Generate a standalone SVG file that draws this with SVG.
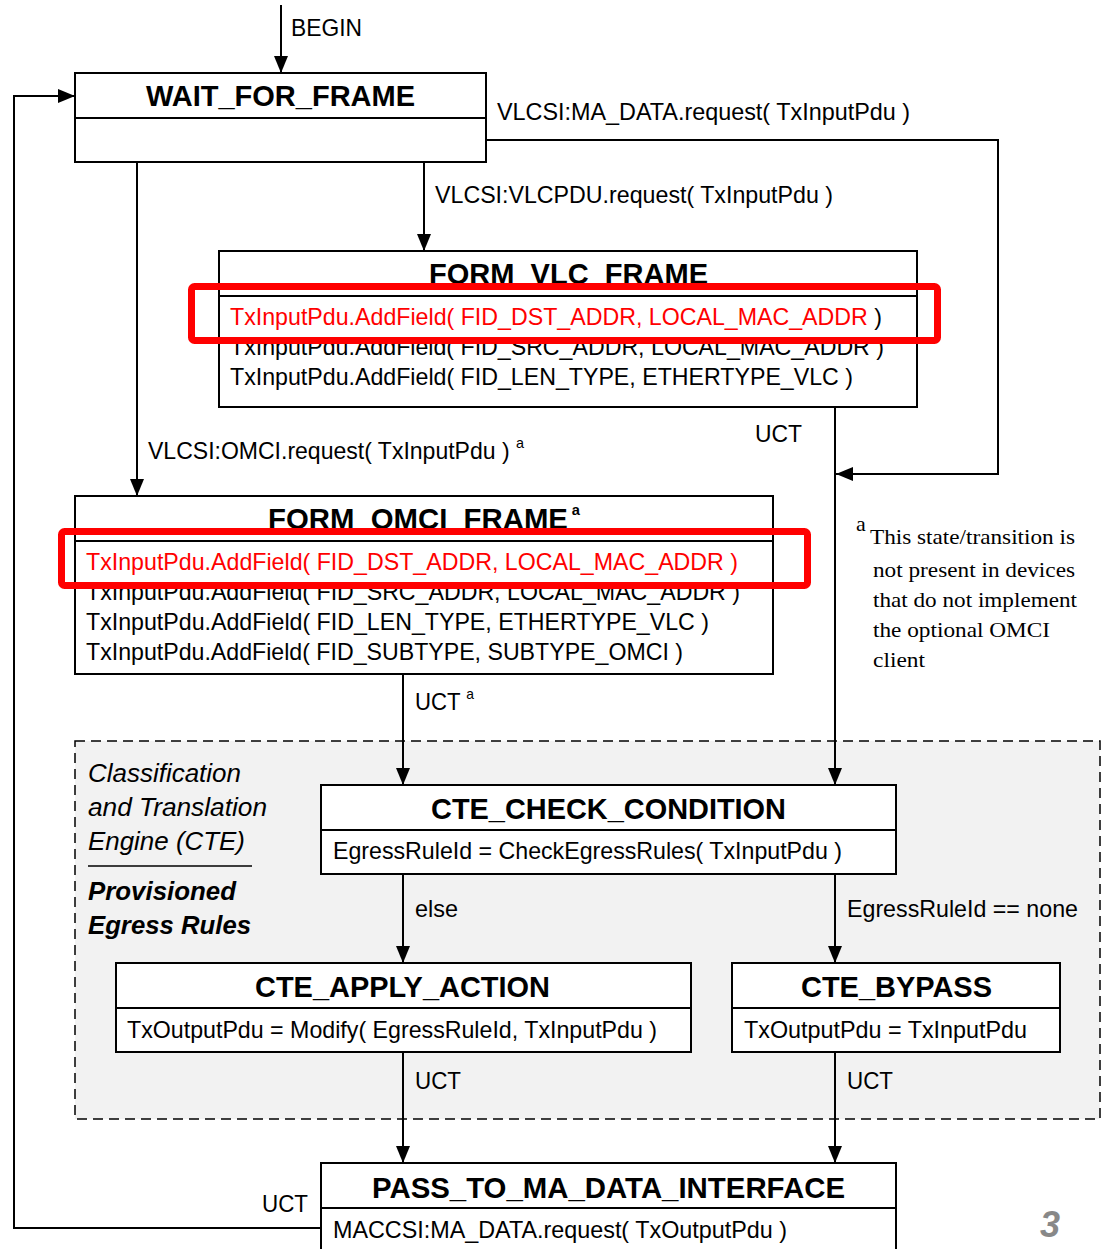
<svg xmlns="http://www.w3.org/2000/svg" width="1103" height="1249" viewBox="0 0 1103 1249">
<style>
.box{fill:#fff;stroke:#000;stroke-width:2}
.div{stroke:#000;stroke-width:2}
.title{font-family:"Liberation Sans",Arial,sans-serif;font-weight:bold;font-size:30px;fill:#000}
.t{font-family:"Liberation Sans",Arial,sans-serif;font-size:24px;fill:#000}
.red{fill:#ff0000}
.sup{font-size:15px}
.it{font-family:"Liberation Sans",Arial,sans-serif;font-style:italic;font-size:26px;fill:#000}
.bi{font-family:"Liberation Sans",Arial,sans-serif;font-style:italic;font-weight:bold;font-size:26px;fill:#000}
.fn{font-family:"Liberation Serif","Times New Roman",serif;font-size:22px;fill:#000}
.conn{fill:none;stroke:#000;stroke-width:2}
.hl{fill:none;stroke:#ff0000;stroke-width:7}
</style>
<defs>
<marker id="arr" markerUnits="userSpaceOnUse" markerWidth="18" markerHeight="16" refX="17" refY="8" orient="auto">
<path d="M0,1 L17,8 L0,15 z" fill="#000"/>
</marker>
</defs>
<rect width="1103" height="1249" fill="#fff"/>

<g id="cte-region">
<rect x="75" y="741" width="1025" height="378" fill="#f2f2f2" stroke="#000" stroke-width="1.5" stroke-dasharray="10,6"/>
<text class="it" x="88" y="782" textLength="153" lengthAdjust="spacingAndGlyphs">Classification</text>
<text class="it" x="88" y="816" textLength="179" lengthAdjust="spacingAndGlyphs">and Translation</text>
<text class="it" x="88" y="850" textLength="157" lengthAdjust="spacingAndGlyphs">Engine (CTE)</text>
<line x1="88" y1="866" x2="252" y2="866" stroke="#000" stroke-width="1.5"/>
<text class="bi" x="88" y="900" textLength="148" lengthAdjust="spacingAndGlyphs">Provisioned</text>
<text class="bi" x="88" y="934" textLength="163" lengthAdjust="spacingAndGlyphs">Egress Rules</text>
</g>

<g id="connectors">
<line class="conn" x1="281" y1="5" x2="281" y2="73" marker-end="url(#arr)"/>
<text class="t" x="291" y="36" textLength="71" lengthAdjust="spacingAndGlyphs">BEGIN</text>
<polyline class="conn" points="486,140 998,140 998,474 836,474" marker-end="url(#arr)"/>
<text class="t" x="497" y="120" textLength="413" lengthAdjust="spacingAndGlyphs">VLCSI:MA_DATA.request( TxInputPdu )</text>
<line class="conn" x1="424" y1="162" x2="424" y2="251" marker-end="url(#arr)"/>
<text class="t" x="435" y="203" textLength="398" lengthAdjust="spacingAndGlyphs">VLCSI:VLCPDU.request( TxInputPdu )</text>
<line class="conn" x1="137" y1="162" x2="137" y2="496" marker-end="url(#arr)"/>
<text class="t" x="148" y="459" textLength="376" lengthAdjust="spacingAndGlyphs">VLCSI:OMCI.request( TxInputPdu ) <tspan class="sup" dy="-11">a</tspan></text>
<line class="conn" x1="835" y1="407" x2="835" y2="785" marker-end="url(#arr)"/>
<text class="t" x="755" y="442" textLength="47" lengthAdjust="spacingAndGlyphs">UCT</text>
<line class="conn" x1="403" y1="674" x2="403" y2="785" marker-end="url(#arr)"/>
<text class="t" x="415" y="710" textLength="59" lengthAdjust="spacingAndGlyphs">UCT <tspan class="sup" dy="-11">a</tspan></text>
<line class="conn" x1="403" y1="874" x2="403" y2="963" marker-end="url(#arr)"/>
<text class="t" x="415" y="917" textLength="43" lengthAdjust="spacingAndGlyphs">else</text>
<line class="conn" x1="835" y1="874" x2="835" y2="963" marker-end="url(#arr)"/>
<text class="t" x="847" y="917" textLength="231" lengthAdjust="spacingAndGlyphs">EgressRuleId == none</text>
<line class="conn" x1="403" y1="1052" x2="403" y2="1163" marker-end="url(#arr)"/>
<text class="t" x="415" y="1089" textLength="46" lengthAdjust="spacingAndGlyphs">UCT</text>
<line class="conn" x1="835" y1="1052" x2="835" y2="1163" marker-end="url(#arr)"/>
<text class="t" x="847" y="1089" textLength="46" lengthAdjust="spacingAndGlyphs">UCT</text>
<polyline class="conn" points="321,1228 14,1228 14,96 75,96" marker-end="url(#arr)"/>
<text class="t" x="262" y="1212" textLength="46" lengthAdjust="spacingAndGlyphs">UCT</text>
</g>

<g id="wait-for-frame">
<rect class="box" x="75" y="73" width="411" height="89"/>
<line class="div" x1="75" y1="118" x2="486" y2="118"/>
<text class="title" x="280.5" y="106" text-anchor="middle" textLength="269" lengthAdjust="spacingAndGlyphs">WAIT_FOR_FRAME</text>
</g>

<g id="form-vlc-frame">
<rect class="box" x="219" y="251" width="698" height="156"/>
<line class="div" x1="219" y1="296" x2="917" y2="296"/>
<text class="title" x="568.5" y="284" text-anchor="middle" textLength="279" lengthAdjust="spacingAndGlyphs">FORM_VLC_FRAME</text>
<text class="t" x="230" y="325" textLength="652" lengthAdjust="spacingAndGlyphs"><tspan class="red">TxInputPdu.AddField( FID_DST_ADDR, LOCAL_MAC_ADDR</tspan> )</text>
<text class="t" x="230" y="355" textLength="654" lengthAdjust="spacingAndGlyphs">TxInputPdu.AddField( FID_SRC_ADDR, LOCAL_MAC_ADDR )</text>
<text class="t" x="230" y="385" textLength="623" lengthAdjust="spacingAndGlyphs">TxInputPdu.AddField( FID_LEN_TYPE, ETHERTYPE_VLC )</text>
<rect class="hl" x="191.5" y="286.5" width="746" height="54" rx="3"/>
</g>

<g id="form-omci-frame">
<rect class="box" x="75" y="496" width="698" height="178"/>
<line class="div" x1="75" y1="541" x2="773" y2="541"/>
<text class="title" x="268" y="529" textLength="312" lengthAdjust="spacingAndGlyphs">FORM_OMCI_FRAME<tspan class="sup" dx="4" dy="-14">a</tspan></text>
<text class="t red" x="86" y="570" textLength="652" lengthAdjust="spacingAndGlyphs">TxInputPdu.AddField( FID_DST_ADDR, LOCAL_MAC_ADDR )</text>
<text class="t" x="86" y="600" textLength="654" lengthAdjust="spacingAndGlyphs">TxInputPdu.AddField( FID_SRC_ADDR, LOCAL_MAC_ADDR )</text>
<text class="t" x="86" y="630" textLength="623" lengthAdjust="spacingAndGlyphs">TxInputPdu.AddField( FID_LEN_TYPE, ETHERTYPE_VLC )</text>
<text class="t" x="86" y="660" textLength="597" lengthAdjust="spacingAndGlyphs">TxInputPdu.AddField( FID_SUBTYPE, SUBTYPE_OMCI )</text>
<rect class="hl" x="61.5" y="531.5" width="746" height="54" rx="3"/>
</g>

<g id="footnote">
<text class="fn" x="856" y="531" font-size="15">a</text>
<text class="fn" x="870" y="544" textLength="205" lengthAdjust="spacingAndGlyphs">This state/transition is</text>
<text class="fn" x="873" y="577" textLength="202" lengthAdjust="spacingAndGlyphs">not present in devices</text>
<text class="fn" x="873" y="607" textLength="204" lengthAdjust="spacingAndGlyphs">that do not implement</text>
<text class="fn" x="873" y="637" textLength="177" lengthAdjust="spacingAndGlyphs">the optional OMCI</text>
<text class="fn" x="873" y="667" textLength="52" lengthAdjust="spacingAndGlyphs">client</text>
</g>

<g id="cte-check-condition">
<rect class="box" x="321" y="785" width="575" height="89"/>
<line class="div" x1="321" y1="830" x2="896" y2="830"/>
<text class="title" x="608.5" y="819" text-anchor="middle" textLength="355" lengthAdjust="spacingAndGlyphs">CTE_CHECK_CONDITION</text>
<text class="t" x="333" y="859" textLength="509" lengthAdjust="spacingAndGlyphs">EgressRuleId = CheckEgressRules( TxInputPdu )</text>
</g>

<g id="cte-apply-action">
<rect class="box" x="116" y="963" width="575" height="89"/>
<line class="div" x1="116" y1="1008" x2="691" y2="1008"/>
<text class="title" x="402.5" y="997" text-anchor="middle" textLength="295" lengthAdjust="spacingAndGlyphs">CTE_APPLY_ACTION</text>
<text class="t" x="127" y="1038" textLength="530" lengthAdjust="spacingAndGlyphs">TxOutputPdu = Modify( EgressRuleId, TxInputPdu )</text>
</g>

<g id="cte-bypass">
<rect class="box" x="732" y="963" width="328" height="89"/>
<line class="div" x1="732" y1="1008" x2="1060" y2="1008"/>
<text class="title" x="896.5" y="997" text-anchor="middle" textLength="191" lengthAdjust="spacingAndGlyphs">CTE_BYPASS</text>
<text class="t" x="744" y="1038" textLength="283" lengthAdjust="spacingAndGlyphs">TxOutputPdu = TxInputPdu</text>
</g>

<g id="pass-to-ma-data-interface">
<rect class="box" x="321" y="1163" width="575" height="100"/>
<line class="div" x1="321" y1="1208" x2="896" y2="1208"/>
<text class="title" x="608.5" y="1198" text-anchor="middle" textLength="473" lengthAdjust="spacingAndGlyphs">PASS_TO_MA_DATA_INTERFACE</text>
<text class="t" x="333" y="1238" textLength="454" lengthAdjust="spacingAndGlyphs">MACCSI:MA_DATA.request( TxOutputPdu )</text>
</g>

<text x="1040" y="1237" font-family="Liberation Sans,Arial,sans-serif" font-size="36" font-weight="bold" font-style="italic" fill="#888">3</text>
</svg>
